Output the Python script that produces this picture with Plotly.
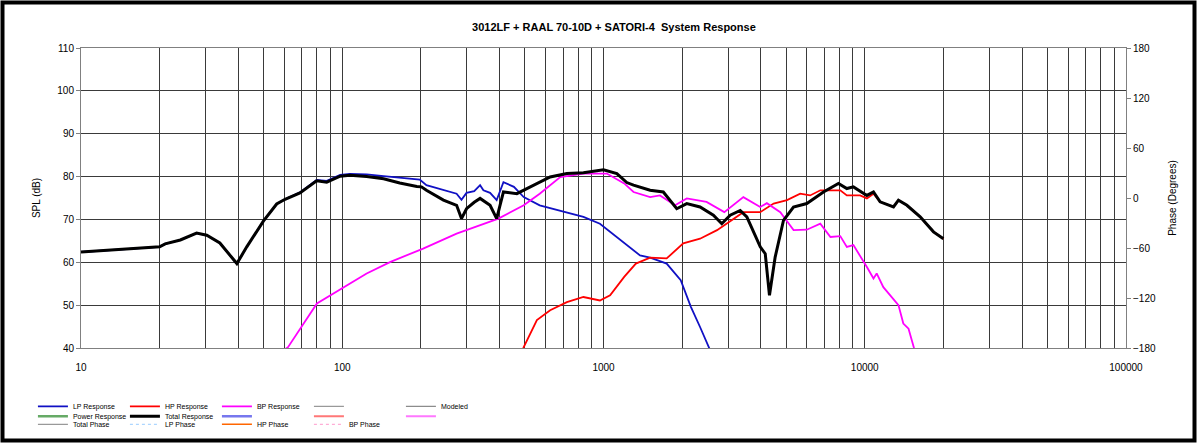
import plotly.graph_objects as go

# Total response (black)
total_freq = [10, 15, 20, 21, 24, 27.7, 30.3, 34, 39.5, 43.1, 49.9, 56.1, 60.4, 68.9, 79.8, 87.2,
              98.2, 107, 124, 144, 166, 193, 201, 210, 244, 274, 286, 299, 320, 337, 368, 390,
              414, 466, 539, 625, 724, 838, 1000, 1125, 1228, 1303, 1508, 1694, 1907, 2083,
              2342, 2634, 2836, 3054, 3337, 3537, 3981, 4160, 4318, 4540, 4887, 5336, 6000,
              6950, 7930, 8540, 9050, 10190, 10800, 11450, 12880, 13460, 14500, 16300, 18330, 20000]
total_spl = [62.4, 63.0, 63.6, 64.3, 65.2, 66.8, 66.3, 64.5, 59.7, 63.6, 69.6, 73.6, 74.7, 76.2, 79.0, 78.7,
             80.1, 80.3, 80.0, 79.5, 78.5, 77.7, 77.6, 76.8, 74.5, 73.3, 70.2, 72.5, 74.0, 74.9, 73.3, 70.2,
             76.4, 76.0, 78.0, 79.9, 80.7, 80.9, 81.6, 80.7, 78.6, 78.0, 76.8, 76.4, 72.5, 73.7,
             72.9, 71.0, 69.0, 71.0, 72.1, 70.6, 63.6, 62.0, 52.3, 61.2, 69.8, 72.9, 73.7,
             76.4, 78.4, 77.2, 77.6, 75.6, 76.4, 74.1, 72.9, 74.5, 73.3, 70.6, 67.1, 65.5]

# LP response (blue)
lp_freq = [10, 15, 20, 21, 24, 27.7, 30.3, 34, 39.5, 43.1, 49.9, 56.1, 60.4, 68.9, 79.8, 87.2,
           98.2, 107, 124, 144, 166, 198, 210, 244, 274, 286, 299, 320, 337, 347, 368, 390,
           414, 454, 495, 570, 724, 838, 969, 1125, 1190, 1303, 1380, 1508, 1745, 1975, 2160,
           2342, 2520, 2580]
lp_spl = [62.4, 63.0, 63.6, 64.3, 65.2, 66.8, 66.3, 64.5, 59.7, 63.6, 69.6, 73.6, 74.7, 76.3, 79.2, 79.0,
          80.4, 80.6, 80.5, 80.1, 79.7, 79.3, 78.0, 76.8, 76.0, 74.6, 76.2, 76.6, 78.0, 76.8, 76.2, 74.5,
          78.7, 77.6, 75.2, 73.3, 71.7, 70.6, 69.0, 65.9, 64.8, 62.8, 61.6, 61.1, 59.7, 55.8, 49.6,
          44.9, 40.2, 39.0]

# HP response (red)
hp_freq = [490, 495, 556, 625, 724, 838, 969, 1060, 1200, 1330, 1508, 1745, 2020, 2342, 2720,
           3150, 3430, 3980, 4480, 5040, 5660, 6180, 6760, 8060, 8540, 9600, 10190, 10800,
           11450, 12880, 13460, 14500, 16300, 18330, 20000]
hp_spl = [39.5, 40.2, 46.5, 48.8, 50.7, 51.9, 51.1, 52.3, 56.6, 59.7, 61.1, 60.9, 64.4, 65.5, 67.5,
          70.2, 71.7, 71.7, 73.7, 74.5, 76.0, 75.6, 76.8, 76.8, 75.6, 75.6, 74.9, 76.0,
          74.1, 72.9, 74.5, 73.3, 70.6, 67.1, 65.5]

# BP response (magenta)
bp_freq = [58, 62, 80, 101, 124, 153, 204, 274, 337, 396, 495, 570, 683, 838, 1030, 1200, 1303,
           1508, 1645, 1880, 2083, 2480, 2900, 3430, 3980, 4220, 4750, 5340, 6000, 6760, 7390,
           8060, 8540, 9050, 10190, 10800, 11110, 11780, 13460, 14050, 14710, 15340, 15600]
bp_spl = [39.0, 40.2, 50.4, 54.2, 57.4, 60.1, 63.2, 66.7, 68.6, 70.2, 73.3, 76.0, 79.9, 80.7, 80.7, 78.4, 76.4,
          75.2, 75.6, 73.3, 74.9, 74.1, 71.7, 75.2, 72.9, 73.8, 71.7, 67.5, 67.6, 69.0, 65.9,
          66.1, 63.6, 64.0, 58.9, 56.2, 57.4, 54.2, 50.0, 45.7, 44.5, 40.2, 39.0]

x_tickvals = [m * 10 ** d for d in range(1, 5) for m in range(1, 10)] + [100000]
x_ticktext = [str(v) if str(v).strip("0") == "1" else "" for v in x_tickvals]

FONT = "Arial, Liberation Sans, sans-serif"


def blank(name, color, width, dash="solid", legend="legend", yaxis="y"):
    return go.Scatter(x=[None], y=[None], mode="lines", name=name, legend=legend, yaxis=yaxis,
                      line=dict(color=color, width=width, dash=dash), hoverinfo="skip")


fig = go.Figure()

# row 1 of legend
fig.add_trace(go.Scatter(x=lp_freq, y=lp_spl, mode="lines", name="LP Response",
                         line=dict(color="#1010C4", width=1.8), legend="legend"))
fig.add_trace(go.Scatter(x=hp_freq, y=hp_spl, mode="lines", name="HP Response",
                         line=dict(color="#FF0000", width=1.8), legend="legend"))
fig.add_trace(go.Scatter(x=bp_freq, y=bp_spl, mode="lines", name="BP Response",
                         line=dict(color="#FF00FF", width=1.8), legend="legend"))
fig.add_trace(blank(" ", "#808080", 1))
fig.add_trace(blank("Modeled", "#707070", 1))

# row 2
fig.add_trace(blank("Power Response", "#66AA66", 2.5, legend="legend2"))
fig.add_trace(go.Scatter(x=total_freq, y=total_spl, mode="lines", name="Total Response",
                         line=dict(color="#000000", width=3), legend="legend2"))
fig.add_trace(blank(" ", "#7777EE", 2.5, legend="legend2"))
fig.add_trace(blank(" ", "#FF7777", 2, legend="legend2"))
fig.add_trace(blank(" ", "#FF77FF", 2, legend="legend2"))

# row 3 (phase)
fig.add_trace(blank("Total Phase", "#808080", 1, legend="legend3", yaxis="y2"))
fig.add_trace(blank("LP Phase", "#99CCFF", 1, dash="dot", legend="legend3", yaxis="y2"))
fig.add_trace(blank("HP Phase", "#FF6600", 1.5, legend="legend3", yaxis="y2"))
fig.add_trace(blank("BP Phase", "#FF99CC", 1, dash="dot", legend="legend3", yaxis="y2"))

leg = dict(orientation="h", xanchor="left", yanchor="top", x=-0.046,
           entrywidth=47, entrywidthmode="pixels", itemwidth=30, tracegroupgap=0,
           bgcolor="rgba(0,0,0,0)", font=dict(family=FONT, size=7, color="#000000"))

fig.update_layout(
    width=1200, height=444,
    margin=dict(l=81, r=74, t=48, b=96, autoexpand=False),
    paper_bgcolor="white", plot_bgcolor="white",
    font=dict(family=FONT, size=10, color="#000000"),
    title=dict(text="3012LF + RAAL 70-10D + SATORI-4\u00a0\u00a0System Response",
               font=dict(family=FONT, size=11, color="#000000", weight="bold"),
               x=0.51, xref="paper", xanchor="center", y=0.939, yanchor="middle"),
    xaxis=dict(type="log", range=[1, 5], tickvals=x_tickvals, ticktext=x_ticktext,
               showgrid=True, gridcolor="#3a3a3a", gridwidth=1, ticks="",
               ticklabelstandoff=10, showline=True, mirror=True, linecolor="#808080",
               zeroline=False, tickfont=dict(size=10)),
    yaxis=dict(range=[40, 110], dtick=10, showgrid=True, gridcolor="#3a3a3a", gridwidth=1,
               ticks="outside", ticklen=4, tickcolor="#808080", showline=True,
               linecolor="#808080", zeroline=False,
               title=dict(text="SPL (dB)", font=dict(size=10), standoff=14)),
    yaxis2=dict(range=[-180, 180], dtick=60, overlaying="y", side="right", showgrid=False,
                ticks="outside", ticklen=4, tickcolor="#808080", zeroline=False,
                showline=True, linecolor="#808080",
                title=dict(text="Phase (Degrees)", font=dict(size=10), standoff=14)),
    legend=dict(leg, y=-0.146),
    legend2=dict(leg, y=-0.179),
    legend3=dict(leg, y=-0.206),
    shapes=[dict(type="rect", xref="paper", yref="paper",
                 x0=(2.5 - 81) / 1045, x1=(1194.5 - 81) / 1045,
                 y0=(348 - 440.5) / 300, y1=(348 - 2.5) / 300,
                 line=dict(color="#000000", width=4))],
)

# the page's default body margin would push the figure 8px in
fig.write_html("out.html", config={"displayModeBar": False},
               post_script="document.body.style.margin = '0px';")
